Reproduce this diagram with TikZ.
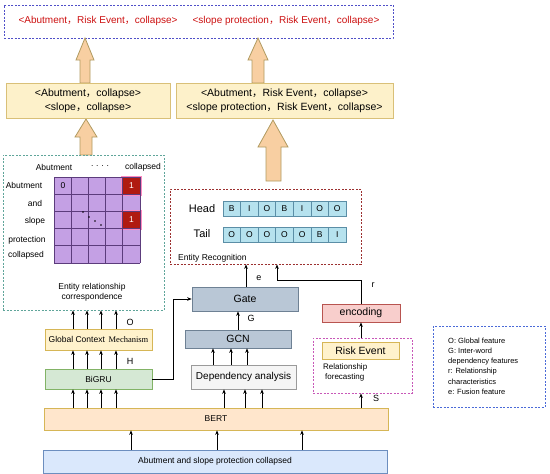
\documentclass[tikz,border=0pt]{standalone}
\usepackage{fontspec}
\setmainfont{Liberation Sans}
\newfontfamily\serifmech{Liberation Serif}
\newfontfamily\cjkf{Noto Sans CJK SC}
\newcommand\fc{{\cjkf ，}}
\usetikzlibrary{arrows.meta}
\definecolor{topblue}{HTML}{5050C8}
\definecolor{boxfill}{HTML}{FDF1CA}
\definecolor{boxline}{HTML}{D9C078}
\definecolor{arrowfill}{HTML}{F8CFA2}
\definecolor{arrowline}{HTML}{B09A60}
\definecolor{mgreen}{HTML}{5FA59A}
\definecolor{erred}{HTML}{9C3030}
\definecolor{rfpink}{HTML}{C858B8}
\definecolor{legblue}{HTML}{4A6AD8}
\definecolor{purp}{HTML}{C4A0E4}
\definecolor{purpline}{HTML}{5C3C7C}
\definecolor{redcell}{HTML}{B01A10}
\definecolor{glow}{HTML}{FF8AC0}
\definecolor{cyanc}{HTML}{B6E2EE}
\definecolor{cyanline}{HTML}{5B8EA6}
\definecolor{gatefill}{HTML}{B9C7D6}
\definecolor{gateline}{HTML}{6E8194}
\definecolor{depfill}{HTML}{F5F5F5}
\definecolor{depline}{HTML}{9A9A9A}
\definecolor{encfill}{HTML}{F8CECC}
\definecolor{encline}{HTML}{B85450}
\definecolor{yfill}{HTML}{FFF2CC}
\definecolor{yline}{HTML}{D6B656}
\definecolor{gfill}{HTML}{D5E8D4}
\definecolor{gline}{HTML}{82B366}
\definecolor{bertfill}{HTML}{FFE6CC}
\definecolor{infill}{HTML}{DAE8FC}
\definecolor{inline}{HTML}{6C8EBF}
\definecolor{toptext}{HTML}{CC1010}
\begin{document}
\begin{tikzpicture}[x=1pt,y=-1pt,
  bx/.style={rectangle, draw, inner sep=0pt, line width=0.7pt},
  arr/.style={-{Stealth[length=4.5pt,width=3.6pt]}, line width=0.8pt},
  dsh/.style={rectangle, draw, dash pattern=on 2pt off 1.5pt, line width=0.8pt, inner sep=0pt},
  barrow/.style={draw=arrowline, fill=arrowfill, line width=0.8pt},
  plain/.style={inner sep=0pt},
  f7/.style={font=\fontsize{7.5}{10}\selectfont},
  f8/.style={font=\fontsize{8.5}{10}\selectfont},
  f9/.style={font=\fontsize{9}{11}\selectfont},
  f10/.style={font=\fontsize{10.5}{14}\selectfont},
  cellc/.style={rectangle, draw=cyanline, fill=cyanc, line width=0.7pt, minimum width=17.57pt, minimum height=15pt, inner sep=0pt, font=\fontsize{8.5}{9}\selectfont}]
\useasboundingbox (0,0) rectangle (550,474);

% ---------- top result box ----------
\node[dsh, draw=topblue, minimum width=389pt, minimum height=33pt] (top) at (198.5,21.5) {};
\node[plain, font=\fontsize{10}{12}\selectfont, text=toptext] (t1) at (98,21) {<Abutment\fc Risk Event\fc collapse>};
\node[plain, font=\fontsize{10}{12}\selectfont, text=toptext] (t2) at (286,21) {<slope protection\fc Risk Event\fc collapse>};

% ---------- block arrows ----------
\draw[barrow] (80,83) -- (80,60) -- (76,60) -- (85,38) -- (94,60) -- (90,60) -- (90,83) -- cycle;
\draw[barrow] (252,83) -- (252,60) -- (248,60) -- (258,38) -- (268,60) -- (264,60) -- (264,83) -- cycle;
\draw[barrow] (80,155) -- (80,137) -- (75,137) -- (86,119) -- (97,137) -- (92,137) -- (92,155) -- cycle;
\draw[barrow] (266,181) -- (266,147) -- (258,147) -- (273,120) -- (288,147) -- (281,147) -- (281,181) -- cycle;

% ---------- second row boxes ----------
\node[bx, draw=boxline, fill=boxfill, minimum width=164pt, minimum height=35pt, align=center, f10] (r1) at (88,100.5) {<Abutment\fc collapse>\\<slope\fc collapse>};
\node[bx, draw=boxline, fill=boxfill, minimum width=217pt, minimum height=35pt, align=center, f10] (r2) at (284.5,100.5) {<Abutment\fc Risk Event\fc collapse>\\<slope protection\fc Risk Event\fc collapse>};

% ---------- matrix box ----------
\node[dsh, draw=mgreen, minimum width=161pt, minimum height=155pt] (mbox) at (83.5,232.5) {};
\fill[purp] (54,177) rectangle (140,263);
\fill[glow] (121,175.5) rectangle (142,196);
\fill[glow] (121,210) rectangle (142,230);
\fill[redcell] (122.8,177) rectangle (140,194.2);
\fill[redcell] (122.8,211.4) rectangle (140,228.6);
\foreach \i in {0,...,5} {
  \draw[purpline, line width=0.9pt] ({54+17.2*\i},177) -- ({54+17.2*\i},263);
  \draw[purpline, line width=0.9pt] (54,{177+17.2*\i}) -- (140,{177+17.2*\i});
}
\node[plain, f8] (c00) at (63,185.5) {0};
\node[plain, f8, text=white] (c04) at (131.4,185.6) {1};
\node[plain, f8, text=white] (c24) at (131.4,220) {1};
\foreach \p in {(83,212),(89,217),(95,221),(101,225)} \fill \p circle (0.9pt);
\node[plain, f8] (ca) at (54,167) {Abutment};
\node[plain, f8] (cd) at (100,166) {.\,\,.\,\,.\,\,.};
\node[plain, f8] (cc) at (143,167) {collapsed};
\node[plain, f8] (ra) at (24,185) {Abutment};
\node[plain, f8] (rb) at (35,203) {and};
\node[plain, f8] (rc) at (35,221) {slope};
\node[plain, f8] (rd) at (27,240) {protection};
\node[plain, f8] (re) at (26,255) {collapsed};
\node[plain, align=center, font=\fontsize{8.5}{10}\selectfont] (mcap) at (92,292) {Entity relationship\\correspondence};

% ---------- entity recognition ----------
\node[dsh, draw=erred, minimum width=191pt, minimum height=75pt] (ER) at (265.5,226.5) {};
\node[plain, font=\fontsize{11}{12}\selectfont] (head) at (202,208.5) {Head};
\node[plain, font=\fontsize{11}{12}\selectfont] (tail) at (202,234) {Tail};
\foreach \l [count=\i from 0] in {B,I,O,B,I,O,O}
  \node[cellc] (h\i) at ({223+17.57*\i+8.785},208.5) {\l};
\foreach \l [count=\i from 0] in {O,O,O,O,O,B,I}
  \node[cellc] (k\i) at ({223+17.57*\i+8.785},234.5) {\l};
\node[plain, f8, anchor=west] (erl) at (178,258) {Entity Recognition};

% ---------- middle column ----------
\node[bx, draw=gateline, fill=gatefill, minimum width=106pt, minimum height=24pt, font=\fontsize{10.5}{12}\selectfont] (gate) at (245,299) {Gate};
\node[bx, draw=gateline, fill=gatefill, minimum width=106pt, minimum height=18pt, font=\fontsize{10.5}{12}\selectfont] (gcn) at (238,339) {GCN};
\node[bx, draw=depline, fill=depfill, minimum width=105pt, minimum height=24pt, font=\fontsize{10}{12}\selectfont] (dep) at (243.5,377) {Dependency analysis};

% ---------- left column ----------
\node[bx, draw=yline, fill=yfill, minimum width=107pt, minimum height=21pt, f8] (gcm) at (98.5,339.5) {Global Context\, {\serifmech Mechanism}};
\node[bx, draw=gline, fill=gfill, minimum width=107pt, minimum height=20pt, f8] (bigru) at (98.5,379) {BiGRU};

% ---------- bottom ----------
\node[bx, draw=yline, fill=bertfill, minimum width=344pt, minimum height=22pt, f8] (bert) at (216,419) {BERT};
\node[bx, draw=inline, fill=infill, minimum width=344pt, minimum height=23pt, f8] (inp) at (215,461.5) {Abutment and slope protection collapsed};

% ---------- right column ----------
\node[bx, draw=encline, fill=encfill, minimum width=78pt, minimum height=18pt, font=\fontsize{10.5}{12}\selectfont] (enc) at (361,313) {encoding};
\node[dsh, draw=rfpink, minimum width=99pt, minimum height=55pt] (rf) at (362.5,365.5) {};
\node[bx, draw=yline, fill=yfill, minimum width=77pt, minimum height=17pt, font=\fontsize{10.5}{12}\selectfont] (risk) at (360.5,350.5) {Risk Event};
\node[plain, anchor=north west, align=left, font=\fontsize{8}{10}\selectfont] (rfl) at (323,364) {Relationship\\\hspace*{2pt}forecasting};

% ---------- legend ----------
\node[dsh, draw=legblue, minimum width=112pt, minimum height=81pt] (leg) at (489,366.5) {};
\node[plain, anchor=north west, align=left, font=\fontsize{7.5}{10.1}\selectfont] (legt) at (448,338) {O: Global feature\\G: Inter-word\\dependency features\\r: Relationship\\characteristics\\e: Fusion feature};

% ---------- thin arrows ----------
\foreach \x in {131,217,302} \draw[arr] (inp.north -| \x,0) -- (bert.south -| \x,0);
\foreach \x in {73,87,101,116} {
  \draw[arr] (bert.north -| \x,0) -- (bigru.south -| \x,0);
  \draw[arr] (bigru.north -| \x,0) -- (gcm.south -| \x,0);
  \draw[arr] (gcm.north -| \x,0) -- (mbox.south -| \x,0);
}
\foreach \x in {224,245,262} \draw[arr] (bert.north -| \x,0) -- (dep.south -| \x,0);
\foreach \x in {213,231,247} \draw[arr] (dep.north -| \x,0) -- (gcn.south -| \x,0);
\draw[arr] (gcn.north) -- (gate.south -| gcn.north);
\draw[arr] (gate.north -| 246,0) -- (ER.south -| 246,0);
\draw[arr] (bigru.east) -- (bigru.east -| 173,0) |- (gate.west);
\draw[arr] (bert.north -| 361,0) -- (rf.south -| 361,0);
\draw[arr] (rf.north -| 361,0) -- (enc.south -| 361,0);
\draw[arr] (enc.north) -- (enc.north |- 0,280) -| (ER.south -| 277,0);

% ---------- arrow labels ----------
\node[plain, f9] (lo) at (130,322) {O};
\node[plain, f9] (lh) at (130,361) {H};
\node[plain, f9] (lg) at (251,318) {G};
\node[plain, f9] (le) at (259,278) {e};
\node[plain, f9] (lr) at (373,285) {r};
\node[plain, f9] (ls) at (376,398) {S};
\end{tikzpicture}
\end{document}
